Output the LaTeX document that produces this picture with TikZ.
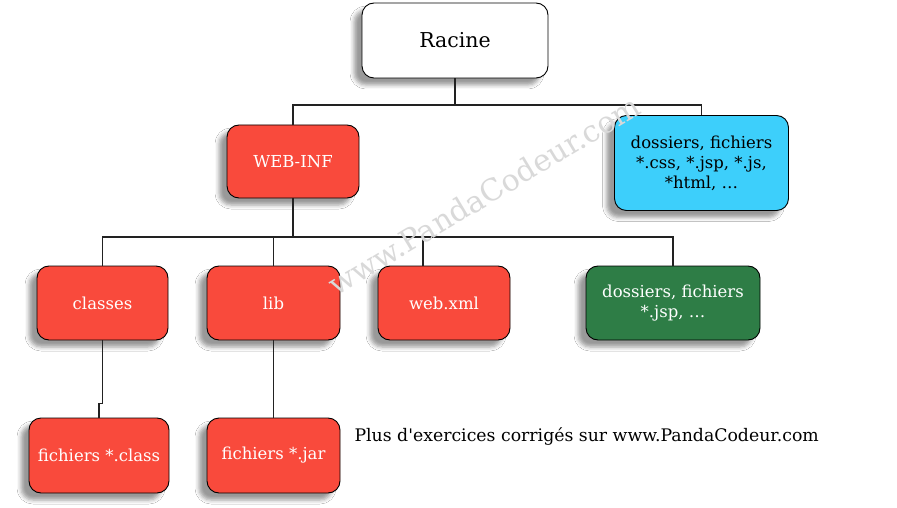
\documentclass[tikz,border=0pt]{standalone}
\usepackage{fontspec}
\setmainfont{DejaVu Serif}
\usetikzlibrary{shadows.blur}
\definecolor{boxred}{HTML}{F94A3C}
\definecolor{boxblue}{HTML}{3DCFFB}
\definecolor{boxgreen}{HTML}{2E7D46}
\definecolor{linegray}{HTML}{222222}
\tikzset{
  folder/.style={draw=black, line width=0.9pt, rounded corners=12pt, align=center,
    inner sep=0pt, font=\fontsize{16.5}{20}\selectfont,
    blur shadow={shadow xshift=-8pt, shadow yshift=-7pt, shadow blur radius=4pt, shadow opacity=40}},
  redbox/.style={folder, fill=boxred, text=white},
  link/.style={draw=linegray, line width=1.8pt}
}
\begin{document}
\begin{tikzpicture}[x=1pt,y=-1pt]
    \useasboundingbox (0,0) rectangle (897,508);
    \fill[white] (0,0) rectangle (897,508);

    \node (racine) [folder, fill=white, minimum width=186pt, minimum height=75pt, font=\fontsize{20.5}{24}\selectfont] at (455,40.5) {Racine};
    \node (webinf) [redbox, minimum width=132pt, minimum height=73pt] at (293,161.5) {WEB-INF};
    \node (statics) [folder, fill=boxblue, minimum width=174pt, minimum height=95pt] at (701.5,163) {dossiers, fichiers\\*.css, *.jsp, *.js,\\*html, \ldots};
    \node (classes) [redbox, minimum width=131pt, minimum height=74pt] at (102.5,303) {classes};
    \node (lib) [redbox, minimum width=133pt, minimum height=74pt] at (273.5,303) {lib};
    \node (webxml) [redbox, minimum width=132pt, minimum height=74pt] at (444,303) {web.xml};
    \node (jsp) [folder, fill=boxgreen, text=white, minimum width=174pt, minimum height=74pt] at (673,303) {dossiers, fichiers\\*.jsp, \ldots};
    \node (fclass) [redbox, minimum width=140pt, minimum height=75pt] at (99,455.5) {fichiers *.class};
    \node (fjar) [redbox, minimum width=133pt, minimum height=75pt] at (273.5,455.5) {fichiers *.jar};

    \coordinate (top) at (455,105);
    \coordinate (mid) at (293,237);

    \draw[link] (racine) -- (top);
    \draw[link] (top) -| (webinf);
    \draw[link] (top) -| (statics);
    \draw[link] (webinf) -- (mid);
    \draw[link] (mid) -| (classes);
    \draw[link] (mid) -| (lib);
    \draw[link] (mid) -| ([xshift=-21pt]webxml.north);
    \draw[link] (mid) -| (jsp);
    \draw[link] (classes.south) -- ++(0,63) -| (fclass.north);
    \draw[link] (lib) -- (fjar);

    \node (note) [anchor=west, font=\fontsize{17.3}{20}\selectfont] at (351,437) {Plus d\textquotesingle exercices corrigés sur www.PandaCodeur.com};
    \node (mark) [rotate=31, text=gray!30, font=\fontsize{30}{34}\selectfont] at (484,195) {www.PandaCodeur.com};
\end{tikzpicture}
\end{document}
